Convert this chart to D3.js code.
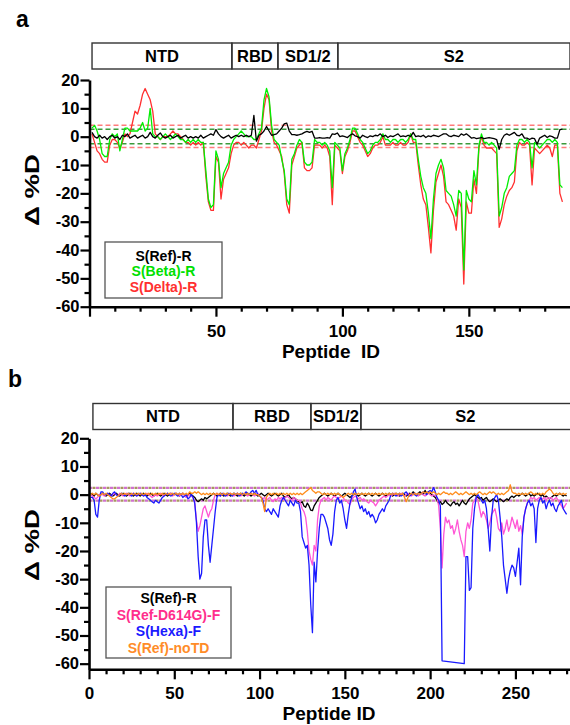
<!DOCTYPE html>
<html>
<head>
<meta charset="utf-8">
<script src="https://cdn.jsdelivr.net/npm/d3@7"></script>
<style>
  body { margin: 0; background: #fff; }
  svg { display: block; }
  text { font-family: "Liberation Sans", Arial, sans-serif; font-weight: bold; }
</style>
</head>
<body>
<svg id="chart" width="570" height="725"></svg>
<script>
// ---- panel a data (peptide 1..187) ----
var blackA = [
  1.5, 0, -0.5, 0.5, -0.5, 0, -1, 0, 0.5, -0.5,
  0, -1, 0.5, 0, 1, -0.5, 0, 0.5, -0.5, 0,
  0.5, -0.5, 0, 1.5, 0, -0.5, 0.5, 1.3, 0, -0.5,
  0, 0.5, -0.5, 0, 0.5, -0.5, 0, 0.5, -0.5, 0,
  -0.5, 0, -0.5, 0.5, -0.5, 0, 0.5, 1, 0.5, 2.5,
  1, 0, -0.5, 0, 0.5, -0.5, 0, 0.5, 0, 0.5,
  0, 0.5, 0, 0.5, 7.5, -1.6, 0.5, 1, 2, 3.6,
  2, 0.5, 0.7, 1, 2, 3, 4.5, 4.8, 2, 0.7,
  0.7, 0.5, 0.7, 1, 1.5, 1.9, 1.5, 1.9, -0.5, -0.5,
  -0.3, -0.5, -0.5, -0.3, -0.5, 1, 0.8, 1.3, 0, 0.3,
  0, -0.3, 0.5, 1, 0.3, 0, -0.5, 0.5, 0, -0.3,
  0.3, 0, 0.5, 0.3, 1, 0, 0.5, -0.3, 0.3, 0,
  0.5, 1, 0, 0.3, 0, 0.5, 0, 1.5, 0, 0.3,
  0, 0.5, -0.3, 0.3, 0, 0.5, 0.3, 0, 0.5, 1,
  1, 0.3, 0, 0.5, 0.3, 0, 1, 0.5, 1, 0.3,
  -0.5, -0.3, -0.7, -0.5, -0.3, -0.7, -0.5, -0.3, -0.5, -0.7,
  -1, -4.5, -1, 0.5, 1, 0.5, 1, 1.5, 0.5, 0.3,
  1, -0.5, -0.5, -1, -0.5, -0.7, -2.7, -0.5, 0, 0.5,
  -0.3, 0.3, 0, -0.5, -0.5, 2.5, 2.7
];
var betaA = [
  3, 4, 2, -1, -6, -7, -7, -1, 1, 0,
  1, -5, -1, 3, 3, 2, 2, 2, 2, 3,
  5, 2, 3, 10, 1, 0, 0, -1, 0, 1,
  0, -1, 0, 1, 0, -1, -1, -2, -1, -2,
  -1, -2, -1, -2, -2, -12, -22, -25, -24, -5,
  -8, -18, -13, -11, -9, -3, -1, 0, 1, 2,
  1, 0, 0, 0, -1, -1, 1, 3, 13, 17,
  14, 4, -1, -2, -3, -8, -12, -22, -24, -8,
  -6, -3, -1, -2, -9, -10, -10, -9, -1, -2,
  -2, -3, -2, -3, -5, -18, -2, -3, -4, -12,
  -6, -4, -1, 3, 3, 1, -1, -2, -4, -6,
  -5, -3, -2, -2, -1, 1, -1, -1, -2, -1,
  -1, -2, -1, -1, -2, -1, 1, -1, -1, -8,
  -14, -18, -20, -27, -36, -22, -13, -10, -8, -11,
  -19, -20, -21, -24, -28, -19, -20, -47, -19, -22,
  -23, -12, -17, -3, 1, -2, -2, -3, -2, -3,
  -4, -28, -25, -20, -18, -14, -13, -12, -3, -1,
  -1, -2, -1, -2, -11, -2, -3, -4, -3, -2,
  -1, -1, -2, -1, -2, -17, -18
];
var deltaA = [
  1, -2, -5, -6, -8, -9, -9, -3, -1, -1,
  -2, -4, -2, 1, 0, 1, 5, 9, 8, 11,
  15, 17, 15, 13, 9, 1, 0, -1, 0, 0,
  0, 1, 2, 1, 1, 0, -1, -2, -2, -3,
  -2, -3, -2, -3, -2, -14, -23, -26, -26, -7,
  -9, -22, -15, -13, -11, -6, -3, -2, -2, -3,
  -2, -3, -4, -3, -3, -4, -1, 2, 10, 15,
  13, 2, -2, -3, -5, -7, -13, -24, -27, -10,
  -7, -4, -3, -2, -11, -12, -12, -11, -3, -3,
  -3, -4, -3, -4, -7, -24, -3, -4, -5, -13,
  -7, -5, -2, 2, 2, 0, -2, -3, -5, -7,
  -6, -4, -3, -3, -2, 0, -3, -3, -3, -2,
  -3, -3, -2, -3, -3, -2, 1, -2, -2, -10,
  -17, -22, -24, -32, -41, -26, -16, -13, -10, -14,
  -23, -24, -26, -28, -33, -22, -25, -52, -23, -27,
  -27, -15, -20, -4, 0, -3, -4, -4, -4, -5,
  -6, -32, -29, -24, -21, -19, -18, -16, -5, -2,
  -3, -3, -2, -3, -17, -4, -5, -6, -5, -4,
  -3, -4, -7, -3, -3, -20, -23
];

// ---- panel b data (peptide 1..280), null = no point ----
var refB = [
  0.5, 0, -0.5, 0.5, 0, -0.5, 0, 0.5, 0, -0.5,
  0, 0.5, 0, -0.5, 0, 0.5, 0, -0.5, 0, 0.5,
  0, -0.5, 0, 0.5, 0, -0.5, 0, 0.5, 0, -0.5,
  0, 0.5, 0, -0.5, 0, 0.5, 0, -0.5, 0, 0.5,
  0, -0.5, 0, 0.5, 0, -0.5, 0, 0.5, 0, 0,
  0.5, 0, -0.5, 0, 0.5, 0, -0.5, 0, 0.5, 0,
  -0.5, -1, -2, -2.5, -2, -1.5, -2, -1, -1.5, -1,
  -0.5, 0, 0.5, 0, -0.5, 0, 0.5, 0, -0.5, 0,
  0.5, 0, -0.5, 0, 0.5, 0, -0.5, 0, 0.5, 0,
  -0.5, 0, 0.5, 0, -0.5, 0, 0.5, 0, -0.5, 0,
  0.5, 0, -0.5, 0, 0.5, 0, -0.5, 0, 0.5, 0,
  -0.5, 0, 0.5, -0.5, -1, -0.5, 0, -1, -1.5, -1,
  -1.5, -2, -2.5, -3, -2.5, -4, -4.5, -3, -4, -5.5,
  -5.7, -4, -3, -2, -1, -0.5, 0, 0.5, 0, -0.5,
  0, 0.5, 0, -0.5, 0, 0.5, 0, -0.5, 0, 0.5,
  0, -0.5, -1, -0.5, 0, 0.5, 0, -0.5, 0, 0.5,
  0, -0.5, 0, 0.5, 0, -0.5, 0, 0.5, 0, -0.5,
  0, 0.5, 0, -0.5, 0, 0.5, 0, -0.5, 0, 0.5,
  0, -0.5, 0, 0.5, 0, -0.5, 0, 0.5, 0, 1,
  0.5, 0, 0.5, 1, 0.5, 0, 1.5, 0.5, 1, 0.5,
  0, -0.5, -1, -2, -3, -2.5, -3.5, -3, -2, -3,
  -3.5, -4, -3, -2.5, -3.5, -3, -4, -3, -2, -3,
  -3.5, -2.5, -1.5, -1, -0.5, 0, -0.5, -1, -1.5, -1,
  -2, -1.5, -1, -2, -2.5, -2, -1.5, -2, -2.5, -2,
  -1.5, -2, -2.5, -2, -1.5, -2, -1, -0.5, -1, -0.5,
  0, -0.5, 0, 0.5, 0, -0.5, 0, 0.5, -0.5, 0,
  -0.5, 0, 0.5, 0, -0.5, 0, -1, -0.5, -1, -1.5,
  -1, -0.5, 0, -0.5, 0, 0.5, 0, -0.5, 0, -0.5
];
var d614gB = [
  0, -0.5, -1, -1.5, -1, 0, 0.5, 0, -0.5, 0,
  0.5, 0, -0.5, 0, 0.5, 0, -0.5, 0.5, 0, -0.5,
  0, 0.5, 0, -0.5, 0, 0.5, 0, -0.5, 0, 0.5,
  0, -0.5, 0, 0.5, 0, -0.5, -1, -0.5, 0, -0.5,
  0, 0.5, 0, -0.5, 0, 0.5, 0, 0.5, -0.5, 0,
  0.5, 0, -0.5, 0, 0.5, -0.5, -1, -0.5, 0, -0.5,
  -1, -3, -9, -13, -11, -8, -5, -4, -6, -8,
  -6, -5, -2, 0, 0.5, 0, -0.5, 0, 0.5, 0,
  -0.5, 0, 0.5, 0, -0.5, 0, 0.5, 0, -0.5, 0,
  0.5, 0, -0.5, 0, 0.5, 0, -0.5, 0, 0.5, -0.5,
  -1, -1.5, -1, -2, -1.5, -1, -2, -2.5, -1.5, -2,
  -1, -1.5, -1, -2, -1, -0.5, -1, -1.5, -2, -1,
  -1.5, -2, -2, -3, -5, -6, -8, -13, -20, -23,
  -25, -18, -20, -9, -4, -2, -1.5, -1, -2, -1,
  -1.5, -2, -1, -0.5, -1, -1.5, -1, -0.5, -1, -2,
  -2, -3, -3.5, -2, -1, -0.5, -1, -1.5, -1, -2,
  -1.5, -2, -2.5, -3, -2, -2.5, -3, -4, -3, -2,
  -1.5, -1, -0.5, -1, -0.5, 0, -0.5, 0, 0.5, 0,
  -0.5, 0, 0.5, 0, -0.5, 0, 0.5, 0, -0.5, 0,
  0.5, 0, -0.5, 0, 0.5, 0, -0.5, 0, 0.5, 0,
  -0.5, 0, -0.5, -1, -4, -12, -26, -14, -8, -10,
  -9, -12, -11, -14, -12, -9, -13, -16, -18, -22,
  -13, -10, -12, -9, -3, -2, -1, -2, -5, -8,
  -6, -7, -9, -12, -10, -7, -6, -5, -8, -12,
  -13, -10, -14, -12, -9, -13, -11, -8, -10, -12,
  -9, -13, -11, -14, -8, -5, -3, -2, -1, -1.5,
  -1, -2, -1.5, -1, -2, -1.5, -1, -2, -1, -1.5,
  -1, -2, -1.5, -1, -2, -3, -4, -5, -4, -3
];
var hexaB = [
  -1, -1, -2, -7, -8, -2, 1, 1, 0, 0,
  0.5, 0, -0.5, 0.5, 1, 0, -0.5, 0, 0.5, 0,
  -0.5, 0, 0.5, 0, -0.5, 0.5, 0, -0.5, 0, 0.5,
  0, -0.5, 0, -1, -1.5, -2, -2.5, -3, -2, -2.5,
  -3, -2, -1, -0.5, 0, 0.5, 0, -0.5, 0, 0.5,
  0, -0.5, 0.5, 0, -1, -0.5, 0, -1.5, -1, 0,
  -1, -3, -10, -22, -30, -28, -15, -9, -9, -18,
  -24, -18, -12, -6, -1, 0, -0.5, 0.5, 0, -0.5,
  0, 0.5, 0, -0.5, 0.5, 0, 0.5, -0.5, 0, 0.5,
  0, 1, 0.5, 0, 1, 1.5, 0.5, 1.5, 0, -0.5,
  -1, -2, -5, -6, -5, -6, -7, -5, -6, -7,
  -8, -4, -2, -1, -2, -3, -4, -2, -3, -4,
  -2, -3, -3, -6, -15, -17, -19, -18, -25, -39,
  -49, -24, -31, -20, -12, -7, -7, -8, -10, -12,
  -16, -18, -14, -6, -2, -1, -3, -2, -5, -9,
  -12, -7, -3, -1, 1, 2, -1, -3, -5, -4,
  -6, -5, -7, -6, -8, -7, -8, -10, -9, -7,
  -6, -5, -6, -4, -3, -2, 0, 0.5, 0, -0.5,
  0, 0.5, -0.5, 0, 0.5, 1, 0, -0.5, 0, 0.5,
  0, -0.5, 0.5, 0, 0.5, 1, 0.5, 0, 1, 1.5,
  1, 2.5, 1, -1, -2, -4, -59, null, null, null,
  null, null, null, null, null, null, null, null, null, -60,
  -22, -22, -34, -33, -12, -5, -1, 0, -1, -2,
  -3, -2, -5, -12, -20, -8, -2, -1, 0, -2,
  -8, -15, -25, -30, -35, -30, -27, -25, -26, -29,
  -24, -19, -32, -15, -8, -5, -3, -2, -4, -3,
  -5, -17, -5, -2, -1, -3, -2, -5, -3, -2,
  -4, -3, -5, -6, -4, -3, -2, -5, -6, -7
];
var notdB = [
  0, 0.5, 0, 0.5, 0, -0.5, 0, 0.5, 0, 0.5,
  0, -0.5, -1, -1.5, -1.5, -1, -0.5, 0, 0.5, 0,
  0.5, 0, 0.5, 0, 0.5, 0, 0.5, 0, 0.5, 0,
  0.5, 0, 0.5, 0, 0.5, 0, 0.5, 0, 0.5, 0,
  0.5, 0, 0.5, 0, 0.5, 0, 0.5, 0, 0.5, 0,
  0.5, 0, 0.5, 0, 0.5, 0, 0.5, 0, 1, 0.5,
  0.5, 1, 0.5, 1, 0.5, 0, 0.5, 0, 0.5, 0,
  0.5, 0, 0.5, 0, 0.5, 0, 0.5, 0, 0.5, 0,
  0.5, 0, 0.5, 0, 0.5, 0, 0.5, 0, 0.5, 0,
  0.5, 0, 0.5, 0, 0.5, 0, 0.5, 0, 0, -0.5,
  -1, -3, -6, -1, 0, 0.5, 0, 0.5, 0, 0.5,
  0, 0.5, 0, 0.5, 0, 0.5, 0, 0.5, 0, 0.5,
  0, 0.5, 0, 0.5, 0, 0.5, 1, 1.5, 2, 2.5,
  1.5, 1, 0.5, 1, 1, 0.5, 0, 0.5, 0, 0.5,
  0, 0.5, 0, 0.5, 0, 0.5, 0, -0.5, -1, -0.5,
  0, 0.5, 0, 0.5, 0, 0.5, 0, 0.5, 0, 0.5,
  0, 0.5, 0, 0.5, 0, 0.5, 0, 0.5, 0, 0.5,
  0, 0.5, 0, 0.5, 0, 0.5, 0, 0.5, 0, 0.5,
  0, 0.5, 0, 0.5, -1, -2.5, -1, 0, 0.5, 0,
  0.5, 0, 0.5, 0, 0.5, 1, 0.5, 1, 0.5, 1,
  0.5, 1, 0.5, 0, 0.5, 0, 0.5, 1, 0.5, 0.5,
  0, 0.5, 0, 0.5, 1, 0.5, 0, 0.5, 0, 0.5,
  1, 0.5, 0, 0.5, 0, 0.5, 0, 0.5, 1, 0.5,
  0, 0.5, 0, 0.5, 1, 0.5, 1, 0.5, 0, 0.5,
  0, 0.5, 0, 0.5, 1, 1.5, 3.5, 1, 0.5, 0.5,
  0, 0.5, 0, 0.5, 0, 0.5, 0, 0.5, 1, 0.5,
  0, 0.5, 0, 0.5, 0, 0.5, 0, 1, 1.5, 2,
  1.5, 0.5, 0, 0.5, 0, 0.5, 0, 0.5, 0, 0.5
];

// domain map (peptide id boundaries) and labels
var domainNames = [ "NTD", "RBD", "SD1/2", "S2" ];
var domainEdgesA = [ 1, 56.3, 74.5, 98.2, 190 ];
var domainEdgesB = [ 2.3, 84.4, 130.1, 159.4, 283 ];

// significance thresholds
var cutRedA = [ 4, -3.8 ];
var cutGreenA = [ 2.6, -2.5 ];
var cutB = [ 2.4, -2.1 ];

var yTicks = d3.range( -60, 21, 5 );

var svg = d3.select( "#chart" );
svg.append( "rect" ).attr( "width", 570 ).attr( "height", 725 ).attr( "fill", "#fff" );

function toPoints( arr ) {
    return arr.map( function ( v, i ) { return [ i + 1, v ]; } )
        .filter( function ( d ) { return d[ 1 ] !== null; } );
}

function drawPanel( p ) {
    var g = svg.append( "g" );
    var x = p.x, y = p.y;

    // domain header boxes
    for ( var i = 0; i < domainNames.length; i++ ) {
        var x0 = x( p.edges[ i ] ), x1 = x( p.edges[ i + 1 ] );
        g.append( "rect" )
            .attr( "x", x0 ).attr( "y", p.boxTop )
            .attr( "width", x1 - x0 ).attr( "height", 26 )
            .attr( "fill", "none" ).attr( "stroke", "#333" ).attr( "stroke-width", 1.4 );
        g.append( "text" )
            .attr( "x", ( x0 + Math.min( x1, 570 ) ) / 2 )
            .attr( "y", p.boxTop + 13 )
            .attr( "dy", "0.36em" )
            .attr( "text-anchor", "middle" )
            .attr( "font-size", 16.5 )
            .text( domainNames[ i ] );
    }

    // thresholds
    p.cuts.forEach( function ( c ) {
        c.vals.forEach( function ( v ) {
            g.append( "line" )
                .attr( "x1", x.range()[ 0 ] ).attr( "x2", 570 )
                .attr( "y1", y( v ) ).attr( "y2", y( v ) )
                .attr( "stroke", c.color ).attr( "stroke-width", c.width )
                .attr( "stroke-dasharray", c.dash )
                .attr( "stroke-dashoffset", c.offset || 0 );
        } );
    } );

    // series lines
    var line = d3.line()
        .x( function ( d ) { return x( d[ 0 ] ); } )
        .y( function ( d ) { return y( d[ 1 ] ); } );
    p.series.forEach( function ( s ) {
        g.append( "path" )
            .datum( toPoints( s.values ) )
            .attr( "d", line )
            .attr( "fill", "none" )
            .attr( "stroke", s.color )
            .attr( "stroke-width", 1.3 )
            .attr( "stroke-linejoin", "round" );
    } );

    // y axis
    var yAxis = g.append( "g" )
        .attr( "transform", "translate(" + x.range()[ 0 ] + ",0)" )
        .call( d3.axisLeft( y ).tickValues( yTicks ).tickSize( 9 ).tickSizeOuter( 0 ).tickPadding( 1 )
            .tickFormat( function ( d ) { return d % 10 === 0 ? d : ""; } ) );
    yAxis.selectAll( ".tick line" )
        .attr( "x2", function ( d ) { return d % 10 === 0 ? -9 : -5; } );
    yAxis.selectAll( "text" )
        .attr( "font-family", "'DejaVu Sans', sans-serif" )
        .attr( "font-size", 16.5 ).attr( "fill", "#000" );

    // x axis
    var xAxis = g.append( "g" )
        .attr( "transform", "translate(0," + y.range()[ 0 ] + ")" )
        .call( d3.axisBottom( x ).tickValues( p.xTicks ).tickSize( 10 ).tickSizeOuter( 0 ).tickPadding( 8 )
            .tickFormat( function ( d ) { return p.xLabels.indexOf( d ) >= 0 ? d : ""; } ) );
    xAxis.selectAll( ".tick line" )
        .attr( "y2", function ( d ) { return d % 50 === 0 ? 10 : 5; } );
    xAxis.selectAll( "text" ).attr( "font-size", 17 ).attr( "fill", "#000" );

    [ yAxis, xAxis ].forEach( function ( a ) {
        a.select( ".domain" ).attr( "stroke", "#000" ).attr( "stroke-width", 2.6 );
        a.selectAll( ".tick line" ).attr( "stroke", "#000" ).attr( "stroke-width", 2.2 );
        a.attr( "font-family", null );
    } );

    // axis titles
    g.append( "text" )
        .attr( "transform", "translate(" + p.yTitle[ 0 ] + "," + p.yTitle[ 1 ] + ") rotate(-90)" )
        .attr( "text-anchor", "middle" )
        .attr( "dy", "0.36em" )
        .attr( "font-size", 21 )
        .attr( "textLength", 72 )
        .attr( "lengthAdjust", "spacingAndGlyphs" )
        .text( "Δ %D" );
    g.append( "text" )
        .attr( "x", p.xTitle[ 0 ] ).attr( "y", p.xTitle[ 1 ] )
        .attr( "text-anchor", "middle" )
        .attr( "dy", "0.36em" )
        .attr( "font-size", 19 )
        .attr( "xml:space", "preserve" )
        .style( "white-space", "pre" )
        .text( p.xTitleText );

    // panel letter
    g.append( "text" )
        .attr( "x", p.letter[ 0 ] ).attr( "y", p.letter[ 1 ] )
        .attr( "font-size", 23 )
        .text( p.letterText );

    // legend
    var lg = p.legend;
    g.append( "rect" )
        .attr( "x", lg.x ).attr( "y", lg.y ).attr( "width", lg.w ).attr( "height", lg.h )
        .attr( "fill", "#fff" ).attr( "stroke", "#555" ).attr( "stroke-width", 1.3 );
    p.series.slice().sort( function ( a, b ) { return a.order - b.order; } )
        .forEach( function ( s, i ) {
            g.append( "text" )
                .attr( "x", lg.x + lg.w / 2 )
                .attr( "y", lg.y + lg.first + i * lg.step )
                .attr( "dy", "0.36em" )
                .attr( "text-anchor", "middle" )
                .attr( "font-size", 14 )
                .attr( "fill", s.textColor )
                .text( s.name );
        } );
}

// panel a
drawPanel( {
    x: d3.scaleLinear().domain( [ 0, 190 ] ).range( [ 89.5, 570 ] ),
    y: d3.scaleLinear().domain( [ -60, 20 ] ).range( [ 306.7, 80 ] ),
    edges: domainEdgesA,
    boxTop: 43,
    cuts: [
        { vals: cutRedA, color: "#ff7b7b", width: 1.5, dash: "5,3" },
        { vals: cutGreenA, color: "#3a9a3a", width: 1.5, dash: "5,3" }
    ],
    series: [
        { name: "S(Delta)-R", values: deltaA, color: "#ff3030", textColor: "#ff3030", order: 3 },
        { name: "S(Beta)-R", values: betaA, color: "#00ee00", textColor: "#00e000", order: 2 },
        { name: "S(Ref)-R", values: blackA, color: "#000", textColor: "#000", order: 1 }
    ],
    xTicks: d3.range( 0, 181, 10 ),
    xLabels: [ 50, 100, 150 ],
    yTitle: [ 31, 190 ],
    xTitle: [ 331, 351 ],
    xTitleText: "Peptide  ID",
    letter: [ 16, 27 ],
    letterText: "a",
    legend: { x: 105, y: 242, w: 117, h: 56, first: 13.5, step: 15.5 }
} );

// panel b
drawPanel( {
    x: d3.scaleLinear().domain( [ 0, 282 ] ).range( [ 89, 570 ] ),
    y: d3.scaleLinear().domain( [ -62, 20 ] ).range( [ 669.3, 438.3 ] ),
    edges: domainEdgesB,
    boxTop: 403.5,
    cuts: [
        { vals: cutB, color: "#d070d0", width: 2.2, dash: "3,4" },
        { vals: cutB, color: "#a89560", width: 2.2, dash: "3,4", offset: 3.5 }
    ],
    series: [
        { name: "S(Ref)-R", values: refB, color: "#000", textColor: "#000", order: 1 },
        { name: "S(Ref-D614G)-F", values: d614gB, color: "#ff55d5", textColor: "#ff2d8c", order: 2 },
        { name: "S(Hexa)-F", values: hexaB, color: "#1a1aff", textColor: "#1a1aff", order: 3 },
        { name: "S(Ref)-noTD", values: notdB, color: "#ff8c1a", textColor: "#ff8c28", order: 4 }
    ],
    xTicks: d3.range( 0, 281, 10 ),
    xLabels: [ 0, 50, 100, 150, 200, 250 ],
    yTitle: [ 31, 545 ],
    xTitle: [ 329, 713 ],
    xTitleText: "Peptide ID",
    letter: [ 8, 387 ],
    letterText: "b",
    legend: { x: 106, y: 587, w: 125, h: 71, first: 11, step: 16.5 }
} );
</script>
</body>
</html>
